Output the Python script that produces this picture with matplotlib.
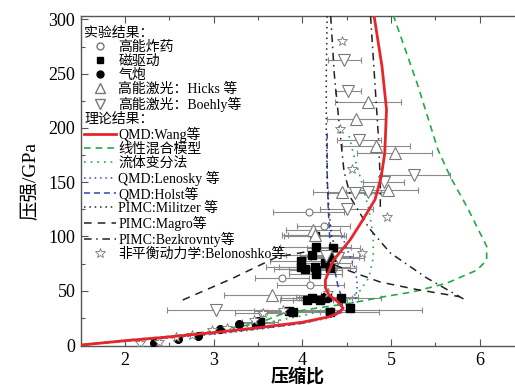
import numpy as np
import matplotlib
matplotlib.use("Agg")
import matplotlib.pyplot as plt
from matplotlib.lines import Line2D

plt.rcParams['font.family'] = ['Liberation Serif', 'Noto Sans CJK SC']

# ---- experimental data (compression ratio, pressure GPa) ----
he_x = [4.07, 4.24, 4.12, 3.77, 4.09, 3.54]
he_y = [123, 110, 101, 61.5, 55, 29.5]
he_xerr = [0.40, 0.30, 0.35, 0.30, 0.38, 0.30]

mag_x = [4.14, 4.15, 4.35, 4.11, 4.34, 3.99, 4.26, 3.99, 4.03, 4.14, 4.15, 4.15, 4.31,
         4.05, 4.11, 4.20, 4.26, 4.28, 4.44, 4.54, 3.90, 3.85, 4.31, 3.52, 3.48]
mag_y = [100, 90.5, 89, 83, 81.5, 77, 75.6, 72, 70, 72, 69, 65, 71,
         41.5, 43, 41.5, 43, 44.5, 43, 34, 30.7, 31, 30.7, 21.5, 20]
mag_xerr = [0.35, 0.40, 0.30, 0.30, 0.30, 0.35, 0.30, 0.40, 0.35, 0.40, 0.30, 0.30, 0.30,
            0.30, 0.35, 0.30, 0.30, 0.35, 0.45, 0.0, 0.30, 0.40, 0.55, 0.20, 0.20]

gg_x = [2.32, 2.60, 2.82, 3.07, 3.29, 3.50]
gg_y = [2, 5.5, 8.5, 14.5, 19, 22.5]

hk_x = [4.74, 4.61, 4.83, 5.04, 4.97, 4.45, 4.12, 3.66, 4.14]
hk_y = [224, 208, 183, 177, 143, 141, 106, 46, 101]
hk_xerr = [0.37, 0.33, 0.38, 0.42, 0.33, 0.33, 0.30, 0.55, 0.30]

bo_x = [4.47, 4.52, 4.64, 5.26, 4.92, 4.74, 4.59, 3.03, 4.40, 4.27, 4.50]
bo_y = [263, 234, 189, 157, 150.5, 141, 140, 32, 80, 82, 125]
bo_xlo = [0.18, 0.15, 0.25, 0.38, 0.23, 0.25, 0.30, 0.56, 0.30, 0.30, 0.30]
bo_xhi = [0.19, 0.14, 0.25, 0.41, 0.23, 0.25, 0.30, 2.32, 0.30, 0.30, 0.30]

st_x = [4.45, 4.43, 4.56, 4.67, 4.95, 3.78, 4.29, 3.56, 3.45, 3.15, 2.98, 2.75, 2.57, 2.38, 2.17]
st_y = [280, 199, 162, 85, 118, 32, 48, 29.5, 23, 15.6, 13.8, 9, 7.7, 3, 2]

# ---- theory curves ----
wang_x = [1.5, 2.0, 2.5, 3.0, 3.5, 4.0, 4.3, 4.42, 4.46, 4.40, 4.30, 4.26, 4.26, 4.30,
          4.35, 4.45, 4.54, 4.68, 4.82, 4.89, 4.93, 4.95, 4.90, 4.81]
wang_y = [0, 4, 7.5, 11.5, 16, 21, 26, 30, 34, 40, 46, 53, 60, 68,
          78, 88, 97, 115, 134, 155, 177, 217, 256, 303]

mix_x = [1.5, 2.0, 2.5, 3.0, 3.5, 3.78, 4.16, 4.54, 4.92, 5.25, 5.63, 5.97, 6.08, 6.08,
         5.86, 5.67, 5.53, 5.30, 5.03]
mix_y = [0, 4.5, 8, 13, 20, 29, 34, 38.5, 44.5, 49, 57, 69, 78, 91,
         127, 155, 180, 240, 303]

fv_x = [1.5, 2.0, 2.5, 3.0, 3.5, 4.0, 4.3, 4.5, 4.65, 4.75, 4.80, 4.80, 4.75, 4.67, 4.58, 4.52]
fv_y = [0, 4, 8, 12.5, 19, 27, 33, 40, 50, 62, 80, 100, 125, 150, 175, 195]

len_x = [1.5, 2.0, 2.5, 3.0, 3.5, 4.0, 4.3, 4.5, 4.6, 4.62, 4.60, 4.52, 4.45]
len_y = [0, 3.5, 6.5, 10, 14.5, 20, 25, 32, 42, 55, 70, 85, 100]

hol_x = [1.5, 2.0, 2.5, 3.0, 3.5, 4.0, 4.3, 4.45, 4.45, 4.40, 4.35, 4.31, 4.29, 4.28, 4.28]
hol_y = [0, 4, 7, 10.5, 15, 20, 26, 33, 42, 55, 75, 97, 130, 160, 195]

mil_x = [4.28, 4.27, 4.27, 4.28, 4.30, 4.33, 4.38]
mil_y = [303, 250, 200, 150, 125, 100, 88]

mag_th_x = [2.65, 3.2, 3.71, 4.05, 4.3, 4.54, 4.88, 5.3, 5.78]
mag_th_y = [41.5, 61, 81, 86, 76, 68, 58, 51, 44.5]

bez_x = [4.32, 4.36, 4.42, 4.47, 4.55, 4.75, 4.99, 5.4, 5.85]
bez_y = [303, 250, 200, 160, 135, 108, 85, 62, 41]
bez2_x = [4.77, 4.82, 4.86, 4.88, 4.88]
bez2_y = [303, 240, 190, 150, 127]

fig = plt.figure(figsize=(5.15, 3.85), dpi=100)
ax = fig.add_axes([0.157, 0.101, 0.843, 0.857])

ebkw = dict(fmt='none', ecolor='#8a8a8a', elinewidth=0.8, capsize=2, capthick=0.8, zorder=1)
ax.errorbar(he_x, he_y, xerr=he_xerr, **ebkw)
ax.errorbar(mag_x, mag_y, xerr=mag_xerr, **ebkw)
ax.errorbar(hk_x, hk_y, xerr=hk_xerr, **ebkw)
ax.errorbar(bo_x, bo_y, xerr=[bo_xlo, bo_xhi], **ebkw)

# theory lines
ax.plot(mix_x, mix_y, color='#22aa44', lw=1.2, ls=(0, (4, 3)), zorder=3)
ax.plot(fv_x, fv_y, color='#22aa44', lw=1.2, ls=(0, (1, 3)), zorder=3)
ax.plot(len_x, len_y, color='#3344bb', lw=1.1, ls=(0, (1, 2.5)), zorder=3)
ax.plot(hol_x, hol_y, color='#3344bb', lw=1.1, ls=(0, (4, 2.5)), zorder=3)
ax.plot(mil_x, mil_y, color='#222222', lw=1.1, ls=(0, (1, 2.5)), zorder=3)
ax.plot(mag_th_x, mag_th_y, color='#222222', lw=1.1, ls=(0, (5, 4)), zorder=3)
ax.plot(bez_x, bez_y, color='#222222', lw=1.1, ls=(0, (5, 3, 1, 3)), zorder=3)
ax.plot(bez2_x, bez2_y, color='#222222', lw=1.1, ls=(0, (5, 3, 1, 3)), zorder=3)

# experimental markers
gray = '#777777'
ax.plot(he_x, he_y, 'o', ms=5, mfc='white', mec=gray, mew=0.8, ls='none', zorder=4)
ax.plot(mag_x, mag_y, 's', ms=5.5, color='black', ls='none', zorder=4)
ax.plot(gg_x, gg_y, 'o', ms=5.5, color='black', ls='none', zorder=4)
ax.plot(hk_x, hk_y, '^', ms=8, mfc='white', mec=gray, mew=0.8, ls='none', zorder=4)
ax.plot(bo_x, bo_y, 'v', ms=8, mfc='white', mec=gray, mew=0.8, ls='none', zorder=4)
ax.plot(st_x, st_y, '*', ms=7, mfc='white', mec=gray, mew=0.6, ls='none', zorder=4)

ax.plot(wang_x, wang_y, color='#e8262a', lw=2, zorder=5)

ax.set_xlim(1.5, 6.4)
ax.set_ylim(-1, 303)
ax.set_xticks([2, 3, 4, 5, 6])
ax.set_xticks(np.arange(1.5, 6.5, 0.5), minor=True)
ax.set_yticks(np.arange(0, 301, 50))
ax.set_yticks(np.arange(0, 301, 25), minor=True)
ax.tick_params(which='both', direction='in', top=True, right=False, colors='#555555',
               labelcolor='black', width=0.8)
ax.tick_params(which='major', length=5, pad=4)
ax.tick_params(which='minor', length=3)
for lab in ax.get_xticklabels() + ax.get_yticklabels():
    lab.set_fontfamily('Liberation Serif')
    lab.set_fontsize(13)
for s in ['left', 'bottom', 'top']:
    ax.spines[s].set_color('#555555')
    ax.spines[s].set_linewidth(1.0)
ax.spines['right'].set_visible(False)

ax.set_xlabel('压缩比', family=['Noto Sans CJK SC'], fontweight='bold', fontsize=13, labelpad=-1)
ax.set_ylabel('压强/GPa', family=['Liberation Serif', 'Noto Sans CJK SC'], fontsize=14,
              labelpad=6)

# legend
blank = Line2D([], [], ls='none')
handles = [
    blank,
    Line2D([], [], marker='o', ms=5, mfc='white', mec=gray, ls='none'),
    Line2D([], [], marker='s', ms=5, color='black', ls='none'),
    Line2D([], [], marker='o', ms=5, color='black', ls='none'),
    Line2D([], [], marker='^', ms=7, mfc='white', mec=gray, ls='none'),
    Line2D([], [], marker='v', ms=7, mfc='white', mec=gray, ls='none'),
    blank,
    Line2D([], [], color='#e8262a', lw=2),
    Line2D([], [], color='#22aa44', lw=1.2, ls=(0, (4, 3))),
    Line2D([], [], color='#22aa44', lw=1.2, ls=(0, (1, 3))),
    Line2D([], [], color='#3344bb', lw=1.1, ls=(0, (1, 2.5))),
    Line2D([], [], color='#3344bb', lw=1.1, ls=(0, (4, 2.5))),
    Line2D([], [], color='#222222', lw=1.1, ls=(0, (1, 2.5))),
    Line2D([], [], color='#222222', lw=1.1, ls=(0, (5, 4))),
    Line2D([], [], color='#222222', lw=1.1, ls=(0, (5, 3, 1, 3))),
    Line2D([], [], marker='*', ms=7, mfc='white', mec=gray, mew=0.6, ls='none'),
]
labels = ['实验结果：', '高能炸药', '磁驱动', '气炮', '高能激光：Hicks 等', '高能激光：Boehly等',
          '理论结果：', 'QMD:Wang等', '线性混合模型', '流体变分法', 'QMD:Lenosky 等',
          'QMD:Holst等', 'PIMC:Militzer 等', 'PIMC:Magro等', 'PIMC:Bezkrovnty等',
          '非平衡动力学:Belonoshko等']
leg = ax.legend(handles, labels, loc='upper left', bbox_to_anchor=(-0.016, 1.0),
                frameon=False, fontsize=10, handlelength=2.3, handletextpad=0.15,
                labelspacing=0.06, borderaxespad=0.55, borderpad=0.2)
rows = leg._legend_handle_box.get_children()[0].get_children()
for i in (0, 6):
    rows[i].get_children()[0].width = 0
    rows[i].sep = 0

fig.savefig('out.png', dpi=100)
